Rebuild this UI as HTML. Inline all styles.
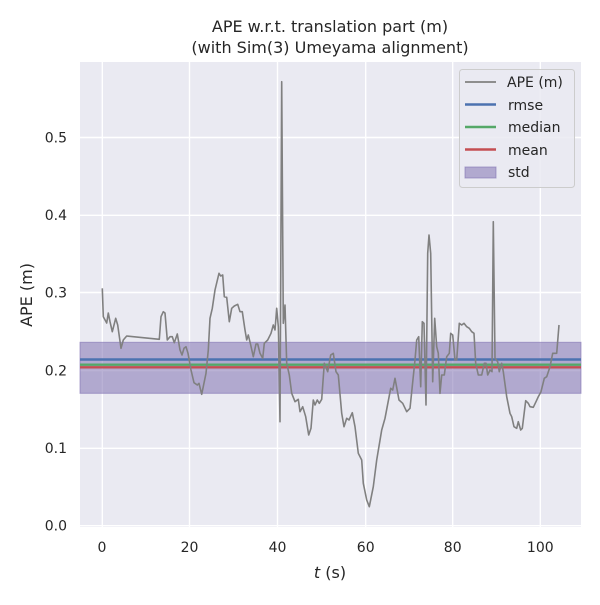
<!DOCTYPE html>
<html><head><style>body{margin:0;background:#fff}svg text{font-family:"DejaVu Sans","Liberation Sans",sans-serif;fill:#262626}</style></head>
<body><svg width="600" height="600" viewBox="0 0 600 600" xmlns="http://www.w3.org/2000/svg">
<rect x="80" y="62" width="501" height="465" fill="#eaeaf2"/>
<g stroke="#fff" stroke-width="1.4">
<line x1="102.3" y1="62" x2="102.3" y2="527"/><line x1="189.5" y1="62" x2="189.5" y2="527"/><line x1="277.5" y1="62" x2="277.5" y2="527"/><line x1="365.7" y1="62" x2="365.7" y2="527"/><line x1="452.7" y1="62" x2="452.7" y2="527"/><line x1="540.3" y1="62" x2="540.3" y2="527"/>
<line x1="80" y1="525.7" x2="581" y2="525.7"/><line x1="80" y1="448.3" x2="581" y2="448.3"/><line x1="80" y1="370.5" x2="581" y2="370.5"/><line x1="80" y1="292.5" x2="581" y2="292.5"/><line x1="80" y1="215.3" x2="581" y2="215.3"/><line x1="80" y1="137.5" x2="581" y2="137.5"/>
</g>
<rect x="80" y="342.3" width="501" height="51" fill="#8172b3" fill-opacity="0.55" stroke="#8172b3" stroke-opacity="0.6"/>
<line x1="80" y1="359.5" x2="581" y2="359.5" stroke="#4c72b0" stroke-width="2.4"/>
<line x1="80" y1="364.7" x2="581" y2="364.7" stroke="#55a868" stroke-width="2.4"/>
<line x1="80" y1="367.3" x2="581" y2="367.3" stroke="#c44e52" stroke-width="2.4"/>
<polyline fill="none" stroke="#808080" stroke-width="1.6" stroke-linejoin="round" points="102.3,288.3 103.3,316.7 106.7,323 108.3,313 110,321.7 112.3,331.7 115.7,318.3 117.7,325 121,348.3 123.3,340 126.7,336 159.3,339.3 161,316.7 163.3,311.7 165,313 167.3,340 170,336.7 172.3,336.7 174.3,342.7 177.3,334 180,350 182,355 184,348.3 186,346.7 188,353.3 191,370 194,382.7 197.3,385 199,383.3 201.7,394.3 206,373.3 208.3,350 210,318.3 212.3,308.3 215,290 219,273.3 220.7,276 222.7,275 224.3,296.7 226.7,297.3 229.3,321.7 231.7,308.3 234.3,306 237.7,304.3 240,311.7 242.3,311.7 245,330 246.7,340 248.3,335 250.7,345 253.3,356.7 256,344 257.7,344 260,353.3 262.7,358.3 264.3,343.3 267.7,340 271,333.3 273.3,325 275,330 276.7,308.3 278.3,326.7 280,421.7 281.7,81.7 283.3,323.3 285,305 286.7,363.3 289.3,375 291.7,393.3 295,401.7 298.3,399.3 300,411.7 302.7,406.7 305.7,416.7 308.7,435 311,428.3 313.3,400 315,405 317.3,400 319.3,403.3 321.7,399.3 324.3,363.3 327.7,371.7 330.7,355 333.3,353.3 336,371.7 338.3,375 341.7,413.3 344,426.7 346.7,418.3 349,420 352.3,412.7 355,426.7 358.3,453.3 361.7,460 363.3,483.3 366.7,500 369.3,506.7 373.3,486.7 376.7,460 381.7,430 385,418.3 390.7,388.3 392.7,390 395,378.3 399,400 402.7,403.3 406.7,411.7 410,408.3 415,360 416.7,340 418.7,336.7 420.7,386.7 422.3,321.7 424,323.3 426,405 427.7,253.3 429,235 430.7,253.3 432.7,381.7 434.7,318.3 436.7,346.7 438.3,353.3 440,393.3 441.7,375 444.3,375 446.7,356.7 449.3,353.3 450.7,333.3 452.7,335 455,360 456.7,360 459.3,323.3 461.7,325 464,323.3 466.7,326.7 469.3,328.3 471.7,331.7 474,333.3 475.7,363.3 478.3,375 481.7,375 484.3,363.3 486,363.3 487.7,375 490,370 492,371.7 493.3,221.7 495,358.3 497.7,361.7 499.3,371.7 501.7,363.3 503.3,371.7 506.7,396.7 510,413.3 511.7,416.7 514,426.7 516.7,428.3 518.3,421.7 520.7,430 522.3,428.3 525.7,400.7 528.3,403.3 530,406.7 533.3,407.3 536,401.7 538.3,396.7 541,391.7 544.3,378.3 546.7,376.7 550,366.7 552.7,353.3 556.7,353.3 559,325"/>
<rect x="459.5" y="69.5" width="115" height="118" rx="3" fill="#eaeaf2" fill-opacity="0.85" stroke="#cccccc"/>
<g stroke-width="2.4"><line x1="465" y1="82" x2="496" y2="82" stroke="#808080" stroke-width="1.8"/><line x1="465" y1="104.5" x2="496" y2="104.5" stroke="#4c72b0"/><line x1="465" y1="127" x2="496" y2="127" stroke="#55a868"/><line x1="465" y1="149.5" x2="496" y2="149.5" stroke="#c44e52"/></g>
<rect x="465" y="167" width="31" height="11" fill="#8172b3" fill-opacity="0.55" stroke="#8172b3" stroke-opacity="0.6"/>
<g font-size="14"><text x="507" y="87">APE (m)</text><text x="508" y="110">rmse</text><text x="508" y="132">median</text><text x="508" y="155">mean</text><text x="508" y="177">std</text></g>
<g font-size="14" text-anchor="end"><text x="67" y="530.5">0.0</text><text x="67" y="453">0.1</text><text x="67" y="375.5">0.2</text><text x="67" y="297.5">0.3</text><text x="67" y="220">0.4</text><text x="67" y="142.5">0.5</text></g>
<g font-size="14" text-anchor="middle"><text x="102" y="552">0</text><text x="189.5" y="552">20</text><text x="277.5" y="552">40</text><text x="365.7" y="552">60</text><text x="452.7" y="552">80</text><text x="540.3" y="552">100</text></g>
<text x="330" y="578" font-size="16" text-anchor="middle"><tspan font-style="italic">t</tspan> (s)</text>
<text transform="translate(32,295) rotate(-90)" font-size="16" text-anchor="middle">APE (m)</text>
<text x="330" y="32" font-size="16" text-anchor="middle">APE w.r.t. translation part (m)</text>
<text x="330" y="53" font-size="16" text-anchor="middle">(with Sim(3) Umeyama alignment)</text>
</svg></body></html>
